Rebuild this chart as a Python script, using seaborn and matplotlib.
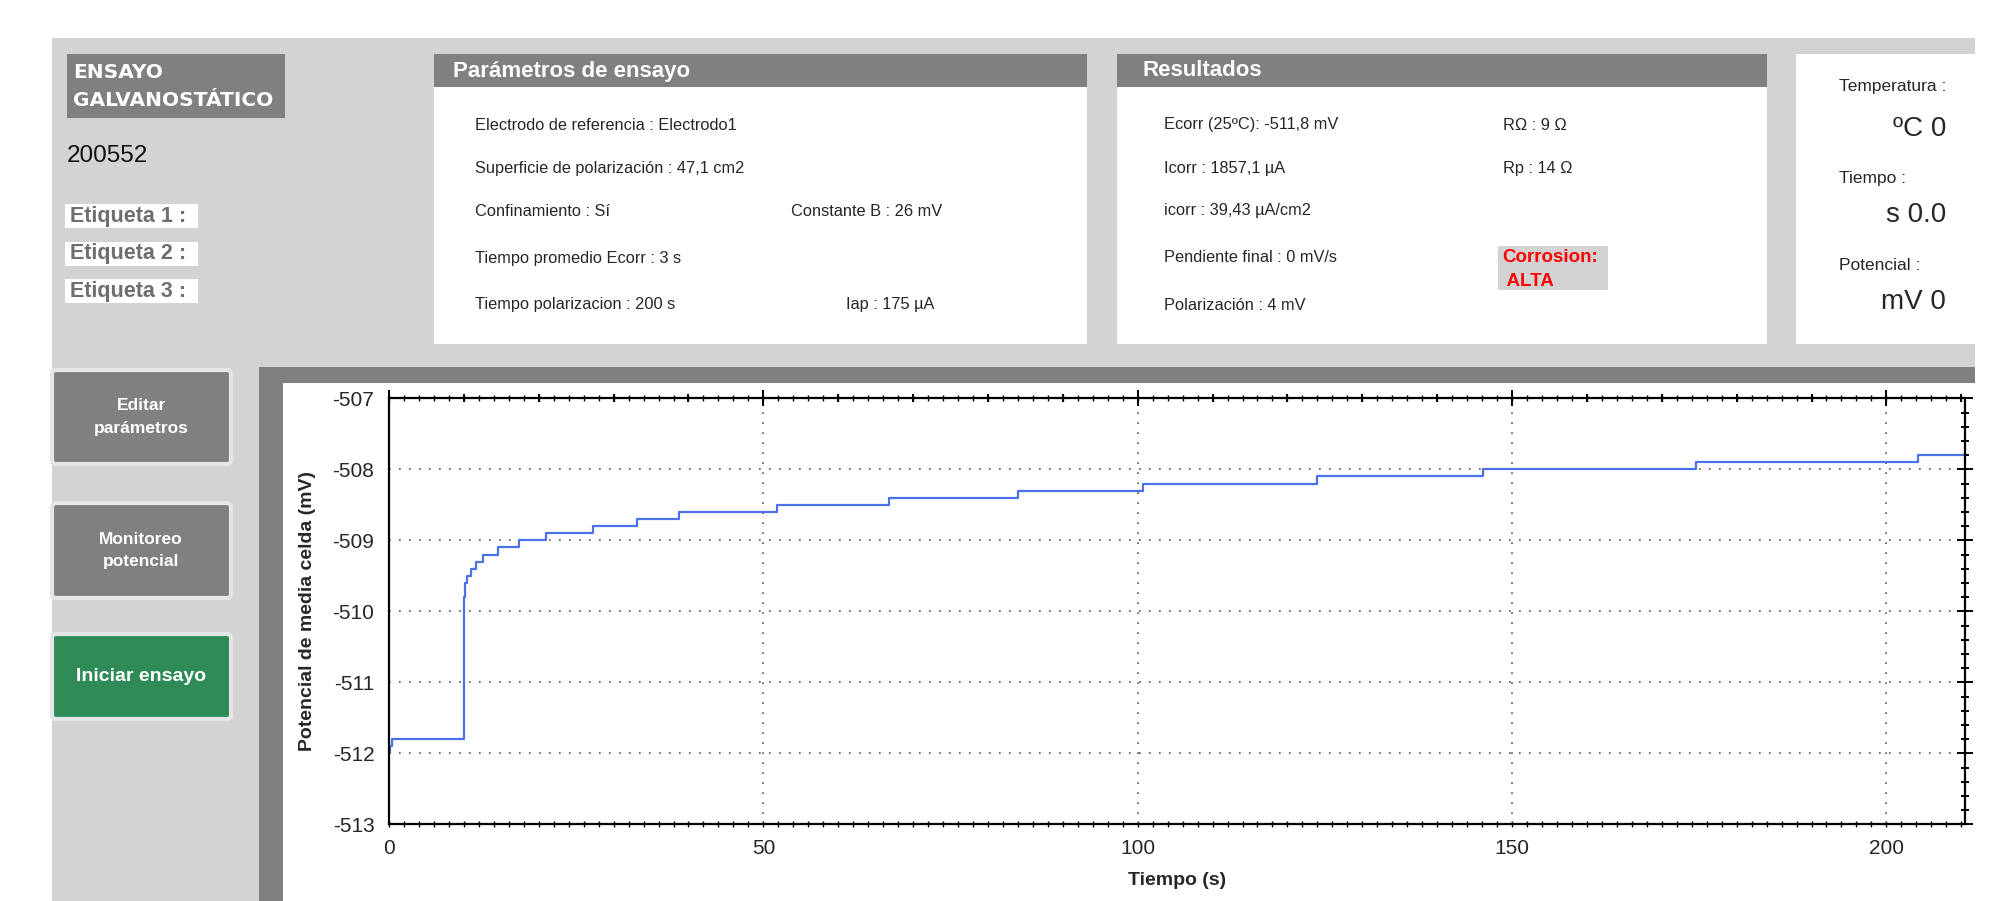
import numpy as np
import pandas as pd
import seaborn as sns
import matplotlib.pyplot as plt
from matplotlib.patches import Rectangle, FancyBboxPatch

# === DATA ===
time_s = [0, 0.2, 0.4, 10.0, 10.2, 10.4, 11.0, 11.6, 12.6, 14.6, 17.4, 21.0, 27.2,
          33.1, 38.7, 51.8, 66.8, 84.0, 100.7, 123.9, 146.1, 174.6, 204.2, 210.3]
potential_mv = [-512.0, -511.9, -511.8, -509.8, -509.6, -509.5, -509.4, -509.3, -509.2,
                -509.1, -509.0, -508.9, -508.8, -508.7, -508.6, -508.5, -508.4, -508.3,
                -508.2, -508.1, -508.0, -507.9, -507.8, -507.8]

param_lines = ["Electrodo de referencia : Electrodo1",
               "Superficie de polarización : 47,1 cm2",
               "Confinamiento : Sí",
               "Tiempo promedio Ecorr : 3 s",
               "Tiempo polarizacion : 200 s"]
param_extra = {2: "Constante B : 26 mV", 4: "Iap : 175 µA"}
result_lines = ["Ecorr (25ºC): -511,8 mV",
                "Icorr : 1857,1 µA",
                "icorr : 39,43 µA/cm2",
                "Pendiente final : 0 mV/s",
                "Polarización : 4 mV"]
result_extra = {0: "RΩ : 9 Ω", 1: "Rp : 14 Ω"}
etiquetas = ["Etiqueta 1 :", "Etiqueta 2 :", "Etiqueta 3 :"]
live_labels = ["Temperatura :", "Tiempo :", "Potencial :"]
live_values = ["ºC 0", "s 0.0", "mV 0"]
buttons = ["Editar\nparámetros", "Monitoreo\npotencial", "Iniciar ensayo"]

df = pd.DataFrame({'Tiempo (s)': time_s, 'Potencial (mV)': potential_mv})

# === FIGURE / COLOURS ===
sns.set_style('white')
plt.rcParams['font.family'] = ['Liberation Sans', 'DejaVu Sans']
plt.rcParams['axes.unicode_minus'] = False

W, H = 2009, 901
LIGHT = '#d3d3d3'
DARK = '#808080'
BODY = 11.8

fig = plt.figure(figsize=(W / 100, H / 100), dpi=100)
fig.patch.set_facecolor('white')

# background canvas in pixel coords (y downwards)
bg = fig.add_axes([0, 0, 1, 1])
bg.set_xlim(0, W)
bg.set_ylim(H, 0)
bg.axis('off')

def box(x, y, w, h, color, **kw):
    bg.add_patch(Rectangle((x, y), w, h, facecolor=color, edgecolor='none', **kw))

box(52, 38, 1923, 863, LIGHT)

# title block
box(67, 54, 218, 64, DARK)
bg.text(73, 72, "ENSAYO", color='white', fontsize=14.5, fontweight='bold',
        family='DejaVu Sans', va='center')
bg.text(73, 100, "GALVANOSTÁTICO", color='white', fontsize=14.5, fontweight='bold',
        family='DejaVu Sans', va='center')
bg.text(67, 156, "200552", fontsize=17.5, va='center', color='#111111')

for i, lab in enumerate(etiquetas):
    y0 = 204 + i * 37.5
    box(65, y0, 133, 24, 'white')
    bg.text(70, y0 + 12.5, lab, color='#6e6e6e', fontsize=15.5, fontweight='bold', va='center')

# parameter panel
box(434, 54, 653, 290, 'white')
box(434, 54, 653, 33, DARK)
bg.text(453, 71, "Parámetros de ensayo", color='white', fontsize=16,
        fontweight='bold', va='center')
row_y = [125, 168, 211, 258, 305]
for i, txt in enumerate(param_lines):
    bg.text(475, row_y[i], txt, fontsize=BODY, va='center')
bg.text(791, row_y[2], param_extra[2], fontsize=BODY, va='center')
bg.text(846, row_y[4], param_extra[4], fontsize=BODY, va='center')

# results panel
box(1117, 54, 650, 290, 'white')
box(1117, 54, 650, 33, DARK)
bg.text(1142, 71, "Resultados", color='white', fontsize=16, fontweight='bold', va='center')
for i, txt in enumerate(result_lines):
    bg.text(1164, row_y[i], txt, fontsize=BODY, va='center')
for i, txt in result_extra.items():
    bg.text(1503, row_y[i], txt, fontsize=BODY, va='center')
box(1498, 246, 110, 44, LIGHT)
bg.text(1502, 258, "Corrosion:", color='red', fontsize=13.5, fontweight='bold', va='center')
bg.text(1502, 281, " ALTA", color='red', fontsize=13.5, fontweight='bold', va='center')

# live readout panel
box(1796, 54, 179, 290, 'white')
for i in range(3):
    bg.text(1839, [87, 179, 266][i], live_labels[i], fontsize=12.5, va='center')
    bg.text(1946, [129, 215, 302][i], live_values[i], fontsize=20, va='center', ha='right')

# buttons
btn_y = [(370, 94), (503, 95), (634, 85)]
btn_c = [DARK, DARK, '#2e8b57']
btn_fs = [12.5, 12.5, 14]
for (y0, h), lab, c, fs in zip(btn_y, buttons, btn_c, btn_fs):
    bg.add_patch(FancyBboxPatch((52, y0), 179, h, boxstyle='round,pad=0,rounding_size=4',
                                facecolor=c, edgecolor='#e6e6e6', linewidth=3))
    bg.text(141, y0 + h / 2, lab, color='white', fontsize=fs, fontweight='bold',
            ha='center', va='center', linespacing=1.6)

# chart frame
box(259, 367, 1716, 534, DARK)
box(283, 383, 1692, 518, 'white')

# === CHART ===
ax = fig.add_axes([389 / W, 1 - 824.3 / H, (1965 - 389) / W, (824.3 - 398.3) / H])
ax.set_facecolor('white')
sns.lineplot(data=df, x='Tiempo (s)', y='Potencial (mV)', ax=ax, drawstyle='steps-post',
             color='#4b72e8', linewidth=1.6, estimator=None, sort=False)

ax.set_xlim(0, 210.5)
ax.set_ylim(-513, -507)
ax.set_xticks(np.arange(0, 201, 50))
ax.set_xticks(np.arange(0, 211, 10), minor=True)
ax.set_yticks(np.arange(-513, -506))
ax.set_yticks(np.arange(-513, -506.9, 0.2), minor=True)
ax.grid(True, which='major', color='#555555', linestyle=(0, (1, 5)), linewidth=1.2)

for s in ax.spines.values():
    s.set_color('black')
    s.set_linewidth(1.6)
    s.set_visible(True)

ax.tick_params(which='both', direction='inout', top=True, right=True,
               labeltop=False, labelright=False, color='black', width=1.4)
ax.tick_params(which='major', length=11, labelsize=15, pad=5)
ax.tick_params(which='minor', length=6)

# tiny ticks every 2 s on the time axis
for loc in ['bottom', 'top']:
    sec = ax.secondary_xaxis(loc)
    sec.set_xticks(np.arange(0, 211, 2), labels=[])
    sec.tick_params(direction='inout', length=4, width=1, color='black')
    for s in sec.spines.values():
        s.set_visible(False)

ax.set_xlabel("Tiempo (s)", fontsize=14, fontweight='bold')
ax.set_ylabel("Potencial de media celda (mV)", fontsize=14, fontweight='bold')
ax.xaxis.set_label_coords(0.5, -0.113)
ax.yaxis.label.set_va('center')
ax.yaxis.set_label_coords(-0.052, 0.5)

plt.savefig("out.png", dpi=100)
